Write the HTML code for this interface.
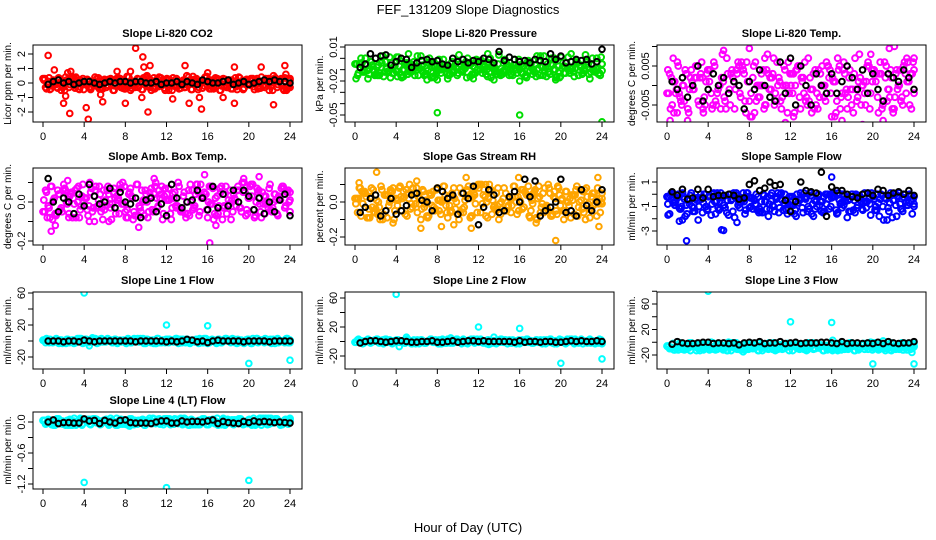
<!DOCTYPE html>
<html><head><meta charset="utf-8">
<style>
html,body{margin:0;padding:0;background:#fff;}
svg{display:block;font-family:"Liberation Sans",Arial,sans-serif;}
</style></head>
<body>
<svg id="chart" width="936" height="540" viewBox="0 0 936 540" xmlns="http://www.w3.org/2000/svg">
<text x="468" y="14" font-size="13" text-anchor="middle">FEF_131209  Slope Diagnostics</text>
<text x="468" y="532" font-size="13" text-anchor="middle">Hour of Day (UTC)</text>
</svg>
<script>
// ---------- data ----------
const hourTicks = [0,4,8,12,16,20,24];

const co2Cloud = [0.3,-0.3,0.1,-0.4,0.2,-0.1,0.35,-0.5,0,0.2,-0.3,0.1,-0.2,0.3,-0.45,0.15,-0.1,0.25,-0.35,0.05,0.4,-0.25,0.1,-0.4,0.2,-0.15,0.3,-0.5,0,0.35,-0.3,0.15,-0.2,0.4,-0.35,0.1,-0.05,0.25,-0.45,0.2,0.5,-0.3,0.05,-0.4,0.3,-0.2,0.1,-0.5,0.25,0,0.35,-0.25,0.15,-0.35,0.2,-0.1,0.4,-0.45,0.05,0.3,-0.3,0.1,-0.2,0.45,-0.4,0.2,-0.05,0.3,-0.5,0.15,0.25,-0.3,0.1,-0.4,0.35,-0.15,0.05,-0.45,0.2,0,0.3,-0.25,0.15,-0.35,0.4,-0.1,0.2,-0.5,0.05,0.3,-0.3,0.1,-0.2,0.35,-0.4,0.2];
const co2Outliers = [[0.5,1.9],[1.1,0.9],[2.2,-0.9],[2.0,-1.4],[2.4,0.7],[2.7,0.8],[2.6,-2.1],[4.2,-1.7],[4.4,-2.5],[5.6,-0.8],[5.8,-1.3],[7.2,0.8],[8.0,-1.4],[8.5,0.8],[9.0,2.4],[9.6,-1.0],[9.7,1.8],[9.8,1.1],[10.2,-2.0],[10.4,1.2],[12.6,-1.1],[13.8,1.2],[14.2,-1.4],[15.2,-1.0],[15.4,-1.8],[16.0,0.7],[17.5,-1.0],[18.6,1.1],[18.6,-1.4],[21.2,1.1],[22.4,-1.5],[23.5,1.2],[23.6,0.6]];
const co2Black = [-0.1,0.1,0.2,0.0,0.1,-0.1,0.0,0.1,0.1,0.0,-0.1,0.0,0.1,0.0,0.1,0.1,0.0,0.1,0.1,0.0,0.0,0.1,-0.1,0.0,0.0,0.1,-0.1,0.1,0.0,-0.1,0.2,0.1,0.0,0.0,0.1,0.2,-0.1,0.0,0.1,-0.1,0.0,0.1,0.2,0.1,0.2,0.1,0.1,0.0];

// pressure in 0.001 kPa units
const presCloud = [-5,-15,-8,-12,0,-18,-3,-10,-14,-6,-2,-16,-9,-11,-4,-13,1,-7,-17,-10,-5,-12,-8,-15,2,-9,-6,-14,-11,-3,-16,-7,-10,-13,-1,-8,-15,-5,-12,-9,3,-11,-6,-17,-4,-14,-8,-10,-2,-13,-7,-16,0,-9,-12,-5,-15,-11,-3,-8,-14,-6,-10,-1,-13,-7,-17,-4,-9,-12,2,-15,-8,-11,-5,-14,-6,-10,-2,-16,-7,-13,1,-9,-12,-4,-15,-8,-11,-3,-14,-6,-10,0,-13,-5];
const presOutliers = [[0.1,-18],[8,-48],[16,-50],[24,-56],[7,-19],[8,-19],[11.5,-18],[13.5,-19],[16,-20],[19.5,-19],[5.2,4],[12.9,4],[21,4]];
const presBlack = [-8,-5,4,0,2,3,-6,-3,0,-1,-8,-4,-2,-1,-3,-2,-5,-6,0,-3,-1,-4,-2,-3,0,-1,-4,6,-2,1,-1,-3,-2,-4,-1,-2,-3,4,-1,2,-4,-3,-1,-2,-1,-5,-3,8];

// Li-820 temp in 0.001 C units
const tempCloud = [-2,3,-5,1,6,-3,0,4,-6,2,-1,5,-4,3,-7,1,4,-2,6,-5,0,2,-3,7,-1,4,-6,3,-2,5,-4,1,-8,2,6,-3,0,4,-5,3,-1,7,-4,2,-6,5,0,-2,3,-7,4,-3,1,6,-5,2,-1,4,-6,3,0,-4,5,-2,1,-7,4,-3,6,-1,2,-5,3,-4,8,0,-2,5,-6,1,3,-3,6,-5,2,-1,4,-7,3,0,-4,5,-2,1,-6,4];
const tempOutliers = [[0.3,-9],[0.6,7],[2,-9],[5.5,9],[8,9.5],[11.5,-9.5],[12.3,-8],[16.3,-8],[17,-9],[19,-10],[19.8,8],[21,-9],[21.6,9.5],[22.1,10],[23.3,7],[1,-7],[3.5,-6],[9.5,7]];
const tempBlack = [1,-1,2,-3,0,5,-4,-1,3,0,2,-2,1,0,-6,1,-1,4,0,-3,-4,6,-2,7,-5,5,0,-5,3,0,-2,3,-2,1,5,2,-1,4,-2,3,-1,-4,3,2,1,4,2,-1];

const ambCloud = [-0.05,0.06,-0.02,0.08,0.01,-0.07,0.04,-0.03,0.09,0,-0.06,0.05,-0.01,0.07,-0.08,0.03,0.02,-0.04,0.1,-0.05,0.06,-0.02,0.04,-0.09,0.01,0.08,-0.03,0.05,-0.06,0.02,0.07,-0.01,-0.08,0.04,0.03,-0.05,0.09,-0.02,0.06,-0.07,0,0.05,-0.04,0.08,-0.03,0.02,-0.09,0.07,0.01,-0.06,0.04,-0.02,0.1,-0.05,0.03,-0.08,0.06,0,-0.03,0.09,-0.07,0.02,0.05,-0.04,0.08,-0.01,-0.06,0.03,0.07,-0.09,0.04,-0.02,0.06,-0.05,0.01,0.08,-0.03,0.05,-0.07,0.02,0.09,-0.04,0,0.06,-0.08,0.03,-0.01,0.07,-0.05,0.04,-0.06,0.02,0.08,-0.03,0.05,0.01];
const ambOutliers = [[0.8,-0.15],[1.2,-0.12],[2.4,0.11],[5,-0.1],[6.4,-0.1],[9.3,-0.13],[10.8,0.12],[15.7,0.14],[16.2,-0.21],[16.8,-0.12],[19.5,0.12],[21,0.13],[0.05,-0.05],[4.5,-0.1],[2.5,-0.08]];
const ambBlack = [0.12,0.0,-0.05,0.02,0.0,-0.06,0.04,-0.02,0.09,0.03,-0.01,0.0,0.07,-0.03,0.05,0.0,-0.01,0.02,-0.08,0.01,0.02,-0.05,-0.01,-0.07,0.09,0.02,-0.03,0.0,0.01,0.06,0.02,-0.04,0.08,-0.03,0.04,-0.02,0.06,0.0,0.06,0.03,-0.04,0.02,-0.06,0.0,-0.05,0.01,0.04,-0.07];

const rhCloud = [0.02,-0.06,0.08,-0.01,0.05,-0.09,0.03,0.07,-0.04,0,0.09,-0.07,0.04,-0.02,0.06,-0.1,0.01,0.08,-0.05,0.03,-0.08,0.1,-0.03,0.05,-0.06,0.02,0.07,-0.01,-0.09,0.04,0.06,-0.04,0.01,-0.07,0.09,-0.02,0.03,-0.05,0.08,0,-0.1,0.05,-0.03,0.07,0.02,-0.08,0.04,-0.06,0.1,-0.01,0.03,-0.09,0.06,0.01,-0.04,0.08,-0.07,0.02,0.05,-0.02,-0.06,0.09,0,-0.05,0.07,-0.03,0.04,-0.08,0.01,0.06,-0.1,0.03,-0.01,0.08,-0.04,0.05,-0.07,0.02,0.09,-0.02,-0.05,0.06,0,-0.09,0.04,0.07,-0.03,0.01,-0.06,0.08,-0.04,0.03,0.05,-0.08,0.02,-0.01];
const rhOutliers = [[0.4,0.11],[2.1,0.17],[3.7,-0.12],[6.4,-0.15],[8.4,-0.14],[9.6,-0.13],[10.8,0.14],[11.3,-0.15],[15.9,0.14],[17.6,-0.12],[19.5,-0.22],[23.6,0.14],[23.7,-0.14],[6.0,0.12],[12.7,0.1]];
const rhBlack = [-0.06,-0.03,0.02,0.04,-0.08,-0.05,0.02,-0.07,-0.05,-0.02,0.04,0.05,0.01,0,-0.05,0.08,0.06,0.02,0.04,-0.07,0.05,0.02,0.09,-0.13,-0.03,0.07,0.04,-0.06,-0.05,0.03,0.06,0.0,0.13,0.03,0.12,-0.08,-0.05,-0.03,0.0,0.13,-0.06,-0.05,-0.08,0.07,-0.02,-0.05,0.0,0.07];

const sampCloud = [-0.2,-1.6,0,-0.9,-0.3,-1.2,0.1,-1.8,-0.5,-0.1,-1.4,-0.4,-2.1,0,-0.7,-1.0,-0.2,-1.7,0.1,-0.6,-1.3,-0.3,-0.9,-1.5,0,-0.4,-1.9,-0.1,-1.1,-0.5,-1.6,0.1,-0.3,-1.2,-0.8,-0.2,-1.4,0,-0.6,-1.8,-0.1,-1.0,-0.4,-1.5,0.1,-0.7,-1.3,-0.2,-0.9,-1.6,0,-0.5,-1.1,-0.3,-1.4,0.1,-0.8,-1.2,-0.1,-0.6,-1.5,0,-0.4,-1.0,-0.2,-1.3,0.1,-0.7,-0.9,-0.3,-1.4,0,-0.5,-1.1,-0.2,-1.2,0.1,-0.6,-0.8,-0.1,-1.3,0,-0.4,-1.0,-0.3,-1.1,0.1,-0.5,-0.9,-0.2,-1.2,0,-0.6,-0.7,-0.1,-0.8];
const sampOutliers = [[1.9,-3.8],[5.3,-2.9],[5.5,-2.95],[6.8,-2.3],[16.0,1.4],[1.2,-2.2],[0.1,-1.7],[1.5,-2.1]];
const sampBlack = [0.2,-0.1,0.4,-0.4,-0.3,0.4,-0.3,0.4,-0.2,-0.1,-0.1,0.0,-0.1,-0.4,-0.3,0.8,1.1,0.3,0.5,1.0,0.7,0.8,-0.5,-1.4,-0.6,1.0,0.3,0.2,0.1,1.8,-1.8,0.6,0.3,0.3,0.0,-0.2,-0.3,0.0,0.1,-0.1,0.4,0.3,-0.1,0.1,0.2,0.0,0.3,-0.1];

const l1Cloud = [1,-2,2,0,-1,3,-3,1,0,2,-2,1,-1,3,0,-3,2,1,-1,0,2,-2,3,-1,1,0,-2,2,-3,1,0,-1,3,-2,1,2,-1,0,-3,2,1,-2,0,3,-1,1,-2,2,0,-1,3,-3,1,0,2,-2,1,-1,0,3,-2,2,-3,1,0,-1,2,-2,1,3,0,-1,2,-3,1,0,-2,2,-1,3,0,-2,1,-1,2,0,-3,1,2,-1,0,-2,3,1];
const l1Outliers = [[4,60],[12,20],[16,19],[20,-28],[24,-24],[4.5,-6],[4.8,4]];
const l1Black = [0,0,0,-1,0,0,-1,1,0,-1,0,0,0,0,0,0,0,-1,0,0,0,0,0,-1,0,-1,0,2,1,-1,0,-2,0,1,0,0,0,0,-1,0,0,0,0,-1,0,0,0,0];

const l2Cloud = [-1,2,0,-3,1,3,-2,0,2,-1,1,-3,3,0,-2,1,2,-1,0,-2,3,1,-3,0,2,-1,1,-2,0,3,-1,2,-3,1,0,-2,2,1,-1,3,0,-3,1,-1,2,0,-2,3,1,-1,0,2,-3,1,-2,0,3,-1,2,0,-2,1,-3,2,0,-1,3,1,-2,0,2,-1,-3,1,0,3,-2,1,-1,2,0,-3,2,1,-1,0,-2,3,1,-1,2,0,-2,1,3,-1];
const l2Outliers = [[4,65],[12,20],[16,18],[20,-30],[24,-24],[4.3,-7],[5,6],[13.5,6],[9.3,5],[13,-4]];
const l2Black = [-2,0,1,1,0,-1,0,1,1,0,-1,-1,0,0,1,-1,-1,0,1,-1,0,1,1,0,1,0,0,0,0,0,-1,1,-1,0,0,-1,0,0,-1,-1,0,1,0,1,0,0,1,0];

const l3Cloud = [-6,-10,-3,-12,-8,-1,-11,-5,-9,-13,-4,-7,-10,-2,-12,-6,-9,0,-11,-7,-3,-10,-8,-13,-5,-1,-9,-11,-6,-4,-12,-8,-2,-10,-7,-13,-5,-9,-3,-11,-6,-1,-12,-8,-4,-10,-7,-13,-5,-2,-9,-11,-6,-3,-12,-8,-1,-10,-7,-4,-13,-5,-9,-2,-11,-6,-8,-12,-3,-10,-7,-1,-13,-5,-9,-4,-11,-6,-2,-12,-8,-10,-3,-7,-13,-5,-1,-9,-11,-6,-4,-12,-8,-2,-10,-7];
const l3Outliers = [[4,80],[12,32],[16,31],[20,-34],[24,-34],[23.8,-16],[16.1,3],[21,2],[7.4,-15]];
const l3Black = [-3,1,-1,-2,-2,-1,0,0,-2,-1,-1,-2,-1,-4,-1,0,-1,1,-2,-1,-1,1,-2,-1,0,-2,-1,-1,-1,0,0,-1,-2,1,-2,-1,-1,-2,-1,-2,0,-2,1,-1,-2,-1,-1,1];

const l4Cloud = [0.03,-0.04,0.05,0,-0.06,0.02,0.06,-0.02,0.01,-0.05,0.04,-0.01,0.07,-0.03,0.02,-0.06,0.05,0,-0.04,0.03,0.06,-0.02,-0.05,0.01,0.04,-0.03,0.07,0,-0.06,0.02,0.05,-0.01,-0.04,0.03,0.06,-0.05,0.01,-0.02,0.04,-0.06,0.03,0.07,-0.03,0,0.05,-0.04,0.02,-0.01,0.06,-0.05,0.01,0.04,-0.03,0.07,-0.02,0,-0.06,0.05,0.02,-0.04,0.03,-0.01,0.06,-0.05,0.04,0,-0.03,0.07,-0.02,0.01,-0.06,0.05,0.03,-0.04,0.02,-0.01,0.06,-0.05,0,0.04,-0.03,0.07,-0.02,0.01,-0.06,0.05,0.03,-0.04,0.02,-0.01,0.06,0,-0.05,0.04,-0.03,0.02];
const l4Outliers = [[4,-1.17],[12,-1.27],[20,-1.13],[8.4,-0.08],[24,0.06]];
const l4Black = [0,0.04,-0.03,-0.01,-0.01,-0.02,-0.02,0.06,0.02,0.03,-0.03,0.03,0.0,-0.02,0.03,0.04,-0.01,-0.02,-0.02,-0.02,-0.03,0.0,0.02,0.02,-0.02,-0.02,0.02,0.0,0.01,0.01,0.0,0.02,0.04,-0.03,0.01,-0.01,-0.02,-0.03,0.01,-0.01,0.02,0.0,0.01,0.0,-0.01,0.0,-0.01,-0.02];

// ---------- panel layout (positions only) ----------
const panels = [
 {id:'co2',col:0,row:0,title:'Slope Li-820 CO2',ylab:'Licor ppm per min.',cal:[2,54,-2,112],ticks:[-2,-1,0,1,2],labels:['-2','-1','0','1','2'],color:'#ff0000',cloud:co2Cloud,out:co2Outliers,black:co2Black},
 {id:'pressure',col:1,row:0,title:'Slope Li-820 Pressure',ylab:'kPa per min.',cal:[10,47,-50,115],ticks:[10,0,-10,-20,-30,-40,-50],labels:['0.01','','','-0.02','','','-0.05'],color:'#00dd00',cloud:presCloud,out:presOutliers,black:presBlack},
 {id:'li820-temp',col:2,row:0,title:'Slope Li-820 Temp.',ylab:'degrees C per min.',cal:[5,66,-5,105],ticks:[10,5,0,-5],labels:['','0.005','','-0.005'],color:'#ff00ff',cloud:tempCloud,out:tempOutliers,black:tempBlack},
 {id:'amb-box-temp',col:0,row:1,title:'Slope Amb. Box Temp.',ylab:'degrees C per min.',cal:[0,202,-0.2,241],ticks:[0.1,0,-0.1,-0.2],labels:['','0.0','','-0.2'],color:'#ff00ff',cloud:ambCloud,out:ambOutliers,black:ambBlack},
 {id:'gas-stream-rh',col:1,row:1,title:'Slope Gas Stream RH',ylab:'percent per min.',cal:[0,202,-0.2,237],ticks:[0.1,0,-0.1,-0.2],labels:['','0.0','','-0.2'],color:'#ffa500',cloud:rhCloud,out:rhOutliers,black:rhBlack},
 {id:'sample-flow',col:2,row:1,title:'Slope Sample Flow',ylab:'ml/min per min.',cal:[1,182,-3,231],ticks:[1,0,-1,-2,-3],labels:['1','','-1','','-3'],color:'#0000ff',cloud:sampCloud,out:sampOutliers,black:sampBlack},
 {id:'line1-flow',col:0,row:2,title:'Slope Line 1 Flow',ylab:'ml/min per min.',cal:[60,293,-20,357],ticks:[60,40,20,0,-20],labels:['60','','20','','-20'],color:'#00ffff',cloud:l1Cloud,out:l1Outliers,black:l1Black},
 {id:'line2-flow',col:1,row:2,title:'Slope Line 2 Flow',ylab:'ml/min per min.',cal:[60,298,-20,356],ticks:[60,40,20,0,-20],labels:['60','','20','','-20'],color:'#00ffff',cloud:l2Cloud,out:l2Outliers,black:l2Black},
 {id:'line3-flow',col:2,row:2,title:'Slope Line 3 Flow',ylab:'ml/min per min.',cal:[60,304,-20,355],ticks:[80,60,40,20,0,-20],labels:['','60','','20','','-20'],color:'#00ffff',cloud:l3Cloud,out:l3Outliers,black:l3Black},
 {id:'line4-flow',col:0,row:3,title:'Slope Line 4 (LT) Flow',ylab:'ml/min per min.',cal:[0,422,-1.2,484],ticks:[0,-0.3,-0.6,-0.9,-1.2],labels:['0.0','','-0.6','','-1.2'],color:'#00ffff',cloud:l4Cloud,out:l4Outliers,black:l4Black}
];
const boxTops=[45,168,292,412], boxH=77;
const NS='http://www.w3.org/2000/svg';
const svg=document.getElementById('chart');
function mk(tag,attrs,parent){const e=document.createElementNS(NS,tag);for(const k in attrs)e.setAttribute(k,attrs[k]);parent.appendChild(e);return e;}

panels.forEach(p=>{
  const bx=33+312*p.col, by=boxTops[p.row], bw=269;
  const xs=h=>bx+10+h*(247/24);
  const [v1,p1,v2,p2]=p.cal;
  const ys=v=>p1+(v-v1)*(p2-p1)/(v2-v1);
  const g=mk('g',{},svg);
  
  
  const clip=mk('clipPath',{id:'clip-'+p.id},g);
  mk('rect',{x:bx,y:by,width:bw,height:boxH},clip);
  const t=mk('text',{x:bx+bw/2,y:by-8,'font-size':11,'font-weight':'bold','text-anchor':'middle'},g);
  t.textContent=p.title;
  
  
  const yl=mk('text',{x:0,y:0,'font-size':10,'text-anchor':'middle',transform:`translate(${bx-22},${by+boxH/2}) rotate(-90)`},g);
  yl.textContent=p.ylab;
  
  
  // points
  const pts=mk('g',{'clip-path':`url(#clip-${p.id})`,fill:'none','stroke-width':2},g);
  
  
  const n=p.cloud.length;
  // each half-hourly reading plotted at several minute-offsets within its slot
  [0,0.33,0.66].forEach((off,k)=>{
    p.cloud.forEach((v,i)=>{
      const j=k===1?(n-1-i):(k===2?((i*7)%n):i);
      const c=mk('circle',{cx:xs(Math.min(24,24*(j+off)/(n-1))),cy:ys(v),r:2.9,stroke:p.color},pts);
      
      
    });
  });
  p.out.forEach(([h,v])=>{
    const c=mk('circle',{cx:xs(h),cy:ys(v),r:2.8,stroke:p.color},pts);
    
    
  });
  p.black.forEach((v,i)=>{
    const c=mk('circle',{cx:xs(0.5*(i+1)),cy:ys(v),r:2.8,stroke:'#000'},pts);
    
    
  });
  // box
  mk('rect',{x:bx,y:by,width:bw,height:boxH,fill:'none',stroke:'#000','stroke-width':1},g);
  // x ticks
  hourTicks.forEach(h=>{
    mk('line',{x1:xs(h),x2:xs(h),y1:by+boxH,y2:by+boxH+5,stroke:'#000'},g);
    const tl=mk('text',{x:xs(h),y:by+boxH+18,'font-size':11,'text-anchor':'middle'},g);
    tl.textContent=h;
    
    
  });
  p.ticks.forEach((v,i)=>{
    const y=ys(v);
    mk('line',{x1:bx-5,x2:bx,y1:y,y2:y,stroke:'#000'},g);
    if(p.labels[i]){
      const tl=mk('text',{x:0,y:0,'font-size':11,'text-anchor':'middle',transform:`translate(${bx-8},${y}) rotate(-90)`},g);
      tl.textContent=p.labels[i];
      
      
    }
  });
});
</script>
</body></html>
